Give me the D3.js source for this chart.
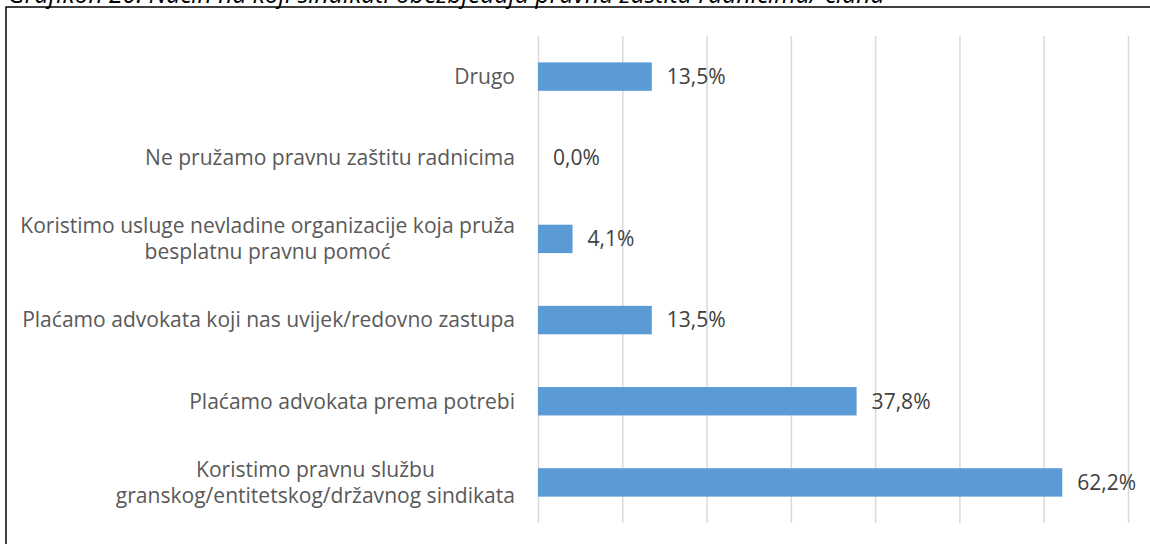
<!DOCTYPE html>
<html>
<head>
<meta charset="utf-8">
<title>Grafikon 20</title>
<script src="https://d3js.org/d3.v7.min.js"></script>
<style>
  body { margin: 0; background: #fff; }
  svg { display: block; }
</style>
</head>
<body>
<script>
	// data (top -> bottom)
	var categories = [
		"Drugo",
		"Ne pružamo pravnu zaštitu radnicima",
		"Koristimo usluge nevladine organizacije koja pruža\nbesplatnu pravnu pomoć",
		"Plaćamo advokata koji nas uvijek/redovno zastupa",
		"Plaćamo advokata prema potrebi",
		"Koristimo pravnu službu\ngranskog/entitetskog/državnog sindikata"
	];
	var values   = [13.5, 0.0, 4.1, 13.5, 37.8, 62.2];
	var gridTicks = [0, 10, 20, 30, 40, 50, 60, 70];
	var titleText = "Grafikon 20: Način na koji sindikati obezbjeđuju pravnu zaštitu radnicima/ člana";

	var width  = 1150;
	var height = 544;
	var plotLeft = 538, plotRight = 1128;
	var plotTop  = 36,  plotBottom = 523;
	var labelFont = "'Open Sans', Lato, sans-serif";

	var svg = d3.select("body").append("svg")
		.attr("width", width)
		.attr("height", height);

	// size a font so a sample string gets a wanted width
	function fitSize(str, wanted, italic) {
		var t = svg.append("text")
			.attr("font-family", labelFont)
			.attr("font-size", 20)
			.attr("font-style", italic ? "italic" : "normal")
			.text(str);
		var w = t.node().getComputedTextLength();
		t.remove();
		return 20 * wanted / w;
	}
	var labelSize = fitSize("Plaćamo advokata koji nas uvijek/redovno zastupa", 493);
	var titleSize = fitSize(titleText, 877, true);

	// cut-off title at the very top (the reference crops it too)
	svg.append("text")
		.attr("x", 8).attr("y", 3)
		.attr("font-family", labelFont)
		.attr("font-style", "italic")
		.attr("font-size", titleSize)
		.attr("fill", "#000")
		.text(titleText);

	// chart frame (only left/top visible)
	svg.append("rect")
		.attr("x", 6).attr("y", 7)
		.attr("width", 1160).attr("height", 560)
		.attr("fill", "none")
		.attr("stroke", "#000")
		.attr("stroke-width", 1.5);

	var xScale = d3.scaleLinear().domain([0, 70]).range([plotLeft, plotRight]);
	var yScale = d3.scaleBand().domain(categories)
		.range([plotTop, plotBottom])
		.paddingInner(0.65).paddingOuter(0.325);

	// vertical gridlines
	var grid = svg.append("g")
		.attr("transform", "translate(0," + plotBottom + ")")
		.call(d3.axisBottom(xScale).tickValues(gridTicks).tickSize(-(plotBottom - plotTop)).tickFormat(""));
	grid.select(".domain").remove();
	grid.selectAll(".tick line").attr("stroke", "#d9d9d9").attr("stroke-width", 1.5);

	// bars
	svg.selectAll("rect.bar").data(values).enter().append("rect")
		.attr("class", "bar")
		.attr("x", xScale(0))
		.attr("y", (d, i) => yScale(categories[i]))
		.attr("width", d => xScale(d) - xScale(0))
		.attr("height", yScale.bandwidth())
		.attr("fill", "#5b9bd5");

	// value labels
	svg.selectAll("text.val").data(values).enter().append("text")
		.attr("class", "val")
		.attr("x", d => xScale(d) + 15)
		.attr("y", (d, i) => yScale(categories[i]) + yScale.bandwidth() / 2)
		.attr("dy", "0.35em")
		.attr("font-family", labelFont)
		.attr("font-size", labelSize)
		.attr("fill", "#404040")
		.text(d => d.toFixed(1).replace(".", ",") + "%");

	// category labels (multi-line ones centred on each other)
	var labelRight = 515, lineH = 26;
	var cat = svg.selectAll("g.cat").data(categories).enter().append("g")
		.attr("class", "cat");
	cat.each(function(c) {
		var g = d3.select(this);
		var lines = c.split("\n");
		var cy = yScale(c) + yScale.bandwidth() / 2;
		var texts = lines.map(function(l, j) {
			return g.append("text")
				.attr("y", cy + (j - (lines.length - 1) / 2) * lineH)
				.attr("dy", "0.35em")
				.attr("font-family", labelFont)
				.attr("font-size", labelSize)
				.attr("fill", "#595959")
				.text(l);
		});
		var maxW = d3.max(texts, t => t.node().getComputedTextLength());
		texts.forEach(function(t) {
			t.attr("text-anchor", "middle").attr("x", labelRight - maxW / 2);
		});
	});
</script>
</body>
</html>
